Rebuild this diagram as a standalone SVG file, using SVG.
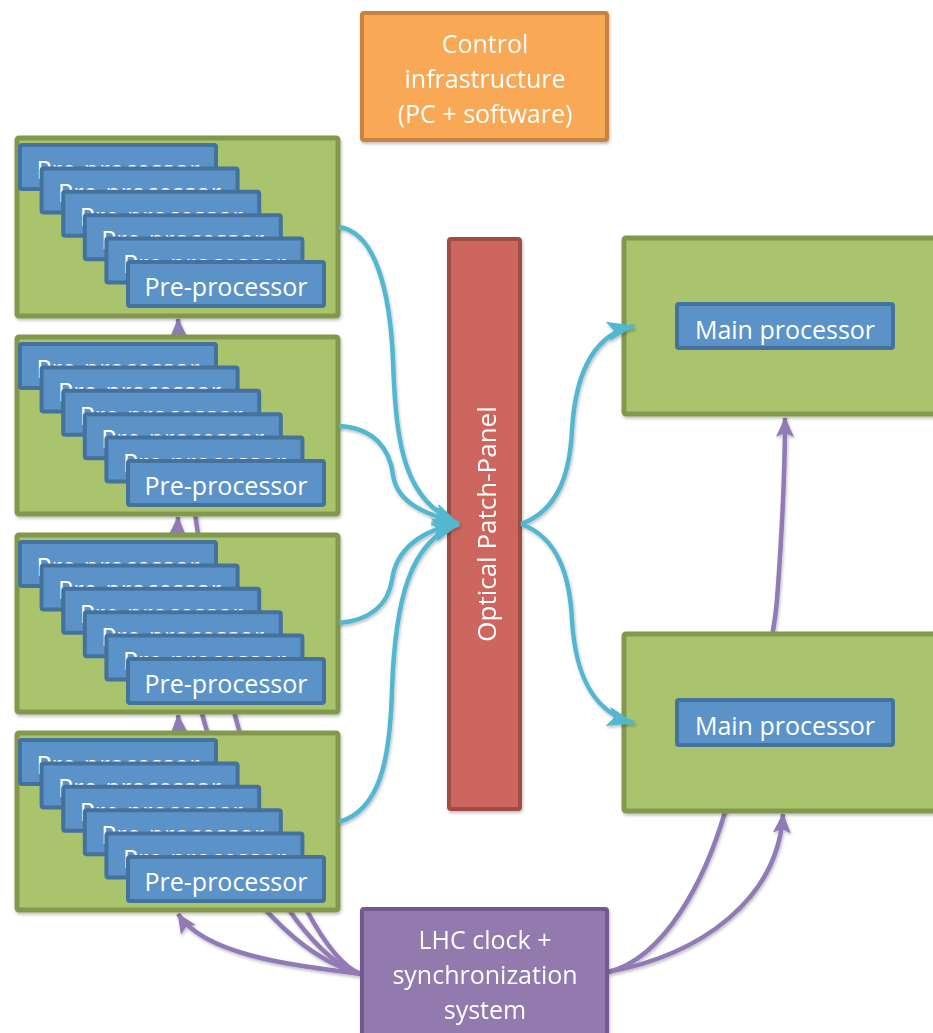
<svg xmlns="http://www.w3.org/2000/svg" width="933" height="1033" viewBox="0 0 933 1033">
  <defs>
    <style>
      .label { font-family: "Open Sans", "Noto Sans", "Liberation Sans", sans-serif; fill: #ffffff; text-anchor: middle; }
      .big { font-size: 25px; }
      .crate { fill: #a9c46c; stroke: #82994e; stroke-width: 5; }
      .board { fill: #5b93c8; stroke: #45719d; stroke-width: 4; }
      .board-text { font-size: 25px; }
      .optical { fill: none; stroke: #52b7cf; stroke-width: 4.5; }
      .clock { fill: none; stroke: #917ab5; stroke-width: 4.5; }
    </style>
    <filter id="soft" x="-10%" y="-10%" width="130%" height="130%">
      <feDropShadow dx="1" dy="2" stdDeviation="1.5" flood-color="#000" flood-opacity="0.25"/>
    </filter>
    <marker id="head-optical" viewBox="0 0 28 20" refX="27" refY="10" markerWidth="28" markerHeight="20" markerUnits="userSpaceOnUse" orient="auto">
      <path d="M0,0 L28,10 L0,20 L6,10 z" fill="#52b7cf"/>
    </marker>
    <marker id="head-clock" viewBox="0 0 20 18" refX="19" refY="9" markerWidth="20" markerHeight="18" markerUnits="userSpaceOnUse" orient="auto">
      <path d="M0,0 L20,9 L0,18 L4,9 z" fill="#917ab5"/>
    </marker>
    <!-- one stack of six pre-processor boards -->
    <g id="board-stack">
      <rect class="board" x="20" y="8" width="196" height="44" rx="2"/>
      <text class="label board-text" x="118" y="42">Pre-processor</text>
      <rect class="board" x="41.6" y="31.4" width="196" height="44" rx="2"/>
      <text class="label board-text" x="139.6" y="65.4">Pre-processor</text>
      <rect class="board" x="63.2" y="54.8" width="196" height="44" rx="2"/>
      <text class="label board-text" x="161.2" y="88.8">Pre-processor</text>
      <rect class="board" x="84.8" y="78.2" width="196" height="44" rx="2"/>
      <text class="label board-text" x="182.8" y="112.2">Pre-processor</text>
      <rect class="board" x="106.4" y="101.6" width="196" height="44" rx="2"/>
      <text class="label board-text" x="204.4" y="135.6">Pre-processor</text>
      <rect class="board" x="128" y="125" width="196" height="44" rx="2"/>
      <text class="label board-text" x="226" y="159">Pre-processor</text>
    </g>
  </defs>

  <rect width="933" height="1033" fill="#ffffff"/>

  <!-- clock distribution lines (run behind the crates) -->
  <g id="connectors-clock" filter="url(#soft)">
    <path class="clock" d="M361,974 C290,965 205,955 178,914" marker-end="url(#head-clock)"/>
    <path class="clock" d="M361,974 C270,950 185,820 178,715" marker-end="url(#head-clock)"/>
    <path class="clock" d="M361,974 C280,950 170,720 178,517" marker-end="url(#head-clock)"/>
    <path class="clock" d="M361,974 C295,950 190,660 178,319" marker-end="url(#head-clock)"/>
    <path class="clock" d="M608,972 C700,955 778,900 783,814" marker-end="url(#head-clock)"/>
    <path class="clock" d="M608,972 C665,958 705,880 725,812 C750,720 772,660 777,600 C783,520 785,460 785,418" marker-end="url(#head-clock)"/>
  </g>

  <!-- control infrastructure -->
  <g id="control" filter="url(#soft)">
    <rect x="362" y="13" width="245" height="127" rx="2" fill="#f9a856" stroke="#c9823f" stroke-width="4"/>
    <text class="label big" x="485" y="53">Control</text>
    <text class="label big" x="485" y="88">infrastructure</text>
    <text class="label big" x="485" y="123">(PC + software)</text>
  </g>

  <!-- pre-processor crates -->
  <g id="crate-1">
    <rect class="crate" x="17" y="138" width="321" height="178" rx="2" filter="url(#soft)"/>
    <use href="#board-stack" x="0" y="137"/>
  </g>
  <g id="crate-2">
    <rect class="crate" x="17" y="337" width="321" height="177" rx="2" filter="url(#soft)"/>
    <use href="#board-stack" x="0" y="336"/>
  </g>
  <g id="crate-3">
    <rect class="crate" x="17" y="535" width="321" height="177" rx="2" filter="url(#soft)"/>
    <use href="#board-stack" x="0" y="534"/>
  </g>
  <g id="crate-4">
    <rect class="crate" x="17" y="733" width="321" height="177" rx="2" filter="url(#soft)"/>
    <use href="#board-stack" x="0" y="732"/>
  </g>

  <!-- optical patch panel -->
  <g id="patch-panel" filter="url(#soft)">
    <rect x="449" y="239" width="71" height="570" rx="2" fill="#cc665e" stroke="#a04c45" stroke-width="4"/>
    <text class="label" font-size="26" transform="translate(496,524) rotate(-90)">Optical Patch-Panel</text>
  </g>

  <!-- main processors -->
  <g id="main-1">
    <rect class="crate" x="624" y="238" width="320" height="176" rx="2" filter="url(#soft)"/>
    <rect class="board" x="677" y="304" width="216" height="44" rx="2"/>
    <text class="label board-text" x="785" y="339">Main processor</text>
  </g>
  <g id="main-2">
    <rect class="crate" x="624" y="634" width="320" height="177" rx="2" filter="url(#soft)"/>
    <rect class="board" x="677" y="700" width="216" height="45" rx="2"/>
    <text class="label board-text" x="785" y="735">Main processor</text>
  </g>

  <!-- LHC clock -->
  <g id="lhc-clock" filter="url(#soft)">
    <rect x="362" y="909" width="245" height="140" rx="2" fill="#9279ae" stroke="#725a90" stroke-width="4"/>
    <text class="label big" x="485" y="949">LHC clock +</text>
    <text class="label big" x="485" y="984">synchronization</text>
    <text class="label big" x="485" y="1019">system</text>
  </g>

  <!-- optical links (drawn over the panel edges) -->
  <g id="connectors-optical" filter="url(#soft)">
    <path class="optical" d="M339,227 C375,232 390,290 393,360 C396,450 405,500 459,524" marker-end="url(#head-optical)"/>
    <path class="optical" d="M339,426 C375,428 390,450 393,475 C397,505 430,515 459,524" marker-end="url(#head-optical)"/>
    <path class="optical" d="M339,623 C370,620 388,605 392,580 C396,550 420,530 459,524" marker-end="url(#head-optical)"/>
    <path class="optical" d="M339,822 C380,810 390,760 392,690 C395,600 410,540 459,524" marker-end="url(#head-optical)"/>
    <path class="optical" d="M521,524 C560,510 570,470 572,430 C575,380 590,335 634,326" marker-end="url(#head-optical)"/>
    <path class="optical" d="M521,524 C560,538 570,580 572,620 C575,670 590,712 634,723" marker-end="url(#head-optical)"/>
  </g>
</svg>
